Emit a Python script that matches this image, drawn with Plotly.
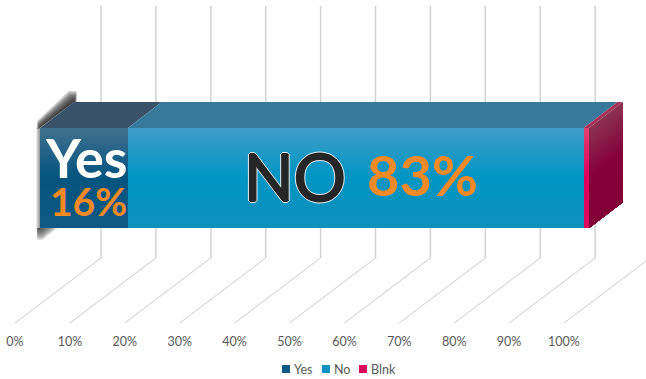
import plotly.graph_objects as go

# Survey result: share of answers per response
series_names = ["Yes", "No", "Blnk"]
series_values = [16, 83, 1]
tick_values = [0, 10, 20, 30, 40, 50, 60, 70, 80, 90, 100]
tick_labels = ["0%", "10%", "20%", "30%", "40%", "50%", "60%", "70%", "80%", "90%", "100%"]
legend_colors = ["#0f5a85", "#0f93c0", "#dc0a5c"]

# Colour stops of each segment, from bottom edge to top edge
front_stops = {
    "Yes": [(0.0, "#0f5a85"), (0.5, "#03547f"), (1.0, "#41708f")],
    "No": [(0.0, "#0f90bd"), (0.5, "#0095c3"), (1.0, "#409dc9")],
    "Blnk": [(0.0, "#dc0a5c"), (0.5, "#e0005a"), (1.0, "#e24272")],
}
top_colors = {"Yes": "#3a5269", "No": "#36799a", "Blnk": "#a53259"}
side_stops = [(0.0, "#820036"), (0.5, "#85003a"), (1.0, "#8b3350")]

W, H = 646, 379
PLOT_BOTTOM = 332
UNIT = 5.49            # pixels per percentage point
FLOOR_ZERO = 15        # pixel position of the 0% tick
BAR_ZERO = 40          # pixel position of the bar's left edge
ROW = 100              # pixels per y unit; the bar is one unit tall

x_range = [-FLOOR_ZERO / UNIT, (W - FLOOR_ZERO) / UNIT]
x2_range = [-BAR_ZERO / UNIT, (W - BAR_ZERO) / UNIT]
y_range = [(228 - PLOT_BOTTOM) / ROW, 228 / ROW]

# Depth of the bar, and of the floor and back wall
bar_dx, bar_dy = 34 / UNIT, 0.26
floor_dx = 86 / UNIT
floor_front, floor_back, wall_top = -0.95, -0.30, 2.22


def hex_rgb(c):
    return [int(c[i:i + 2], 16) for i in (1, 3, 5)]


def mix(stops, t):
    for (t0, c0), (t1, c1) in zip(stops, stops[1:]):
        if t <= t1:
            k = (t - t0) / (t1 - t0)
            a, b = hex_rgb(c0), hex_rgb(c1)
            return "rgb({},{},{})".format(*[round(p + (q - p) * k) for p, q in zip(a, b)])
    return stops[-1][1]


STRIPS = 50
strip_y = [(i + 0.5) / STRIPS for i in range(STRIPS)]
shapes = []


def line(x0, y0, x1, y1, color, width):
    shapes.append(dict(type="line", xref="x", yref="y", x0=x0, y0=y0, x1=x1, y1=y1,
                       line=dict(color=color, width=width), layer="below"))


def poly(pts, color, opacity=1.0):
    path = "M" + " L".join(f"{a:.3f},{b:.3f}" for a, b in pts) + " Z"
    shapes.append(dict(type="path", xref="x2", yref="y", path=path, fillcolor=color,
                       line=dict(width=0), opacity=opacity, layer="below"))


# Back wall uprights and floor lines
for v in tick_values:
    line(v, floor_front, v + floor_dx, floor_back, "#cccccc", 1)
    line(v + floor_dx, floor_back, v + floor_dx, wall_top, "#d2d2d2", 1.5)

# Soft shadow thrown behind the bar: nested translucent layers build up a fade
for k in range(1, 9):
    e = k / 8
    # upper left edge, darkest towards the back corner
    poly([(-0.1, 1.0), (bar_dx, 1 + bar_dy),
          (bar_dx + 0.5 * e, 1 + bar_dy),
          (bar_dx + 0.5 * e, 1 + bar_dy + 0.11 * e),
          (bar_dx - 1.0 * e, 1 + bar_dy + 0.11 * e),
          (-0.5 * e, 1.0 + 0.07 * e),
          (-0.6 * e, 0.99)], "#1c1c1c", 0.2)
    # left edge
    poly([(0, 1.0), (0, -0.02), (-0.7 * e, -0.02), (-0.7 * e, 1.0)], "#555555", 0.1)
    # lower left corner
    poly([(-0.5, 0.0), (3.2 * e, 0.0), (0.4, -0.12 * e), (-0.5, -0.12 * e)], "#333333", 0.17)

fig = go.Figure()
start = 0
for name, value in zip(series_names, series_values):
    fig.add_trace(go.Bar(
        name=name, orientation="h", xaxis="x2", yaxis="y",
        y=strip_y, x=[value] * STRIPS, base=[start] * STRIPS,
        width=[1.03 / STRIPS] * STRIPS,
        marker=dict(color=[mix(front_stops[name], t) for t in strip_y], line=dict(width=0)),
        hoverinfo="skip", showlegend=False,
    ))
    end = start + value
    poly([(start, 1), (end, 1), (end + bar_dx, 1 + bar_dy), (start + bar_dx, 1 + bar_dy)],
         top_colors[name])
    start = end

# Shaded end cap of the bar, painted top band first so the bands leave no seams
CAP = 30
for i in range(CAP, 0, -1):
    t = i / CAP
    poly([(start, 0), (start, t), (start + bar_dx, t + bar_dy), (start + bar_dx, bar_dy)],
         mix(side_stops, (i - 0.5) / CAP))

ORANGE = "#f58a24"
heavy = [(1, 0), (-1, 0), (0, 1), (0, -1)]
halo = [(2, 0), (-2, 0), (0, 2), (0, -2), (1, 1), (-1, -1), (1, -1), (-1, 1)]
outline = ", ".join([f"{a}px {b}px 0 #262626" for a, b in heavy]
                    + [f"{a}px {b}px 0 #dfe8ec" for a, b in halo])
annotations = [
    dict(text="<b>Yes</b>", x=8.3, y=0.71, font=dict(size=54, color="white")),
    dict(text="<b>16%</b>", x=8.85, y=0.27, font=dict(size=39, color=ORANGE)),
    dict(text="NO", x=46.4, y=0.52, font=dict(size=65, color="#262626", shadow=outline)),
    dict(text="<b>83%</b>", x=69.6, y=0.54, font=dict(size=56, color=ORANGE)),
]
for a in annotations:
    a.update(xref="x2", yref="y", showarrow=False, xanchor="center", yanchor="middle")
    a["font"]["family"] = "Lato"

# Compact key under the chart
key_left = [282, 322, 359]
for name, color, px in zip(series_names, legend_colors, key_left):
    shapes.append(dict(type="rect", xref="paper", yref="paper",
                       x0=px / W, x1=(px + 8) / W,
                       y0=(PLOT_BOTTOM - 373) / (PLOT_BOTTOM), y1=(PLOT_BOTTOM - 365) / (PLOT_BOTTOM),
                       fillcolor=color, line=dict(width=0), layer="above"))
    annotations.append(dict(text=name, xref="paper", yref="paper", x=(px + 12) / W,
                            y=(PLOT_BOTTOM - 369) / PLOT_BOTTOM, xanchor="left", yanchor="middle",
                            showarrow=False, xshift=-2,
                            font=dict(family="Lato", size=12.5, color="#595959")))

fig.update_layout(
    width=W, height=H, autosize=False,
    margin=dict(l=0, r=0, t=0, b=H - PLOT_BOTTOM),
    paper_bgcolor="white", plot_bgcolor="white",
    barmode="overlay", bargap=0, showlegend=False,
    shapes=shapes, annotations=annotations,
    font=dict(family="Lato", color="#595959", size=12),
    xaxis=dict(range=x_range, tickvals=tick_values, ticktext=tick_labels, showgrid=False,
               zeroline=False, showline=False, ticks="", tickfont=dict(size=12.5, color="#595959")),
    xaxis2=dict(range=x2_range, overlaying="x", anchor="y", visible=False),
    yaxis=dict(range=y_range, visible=False),
)

fig.write_html("out.html", config=dict(displayModeBar=False))
